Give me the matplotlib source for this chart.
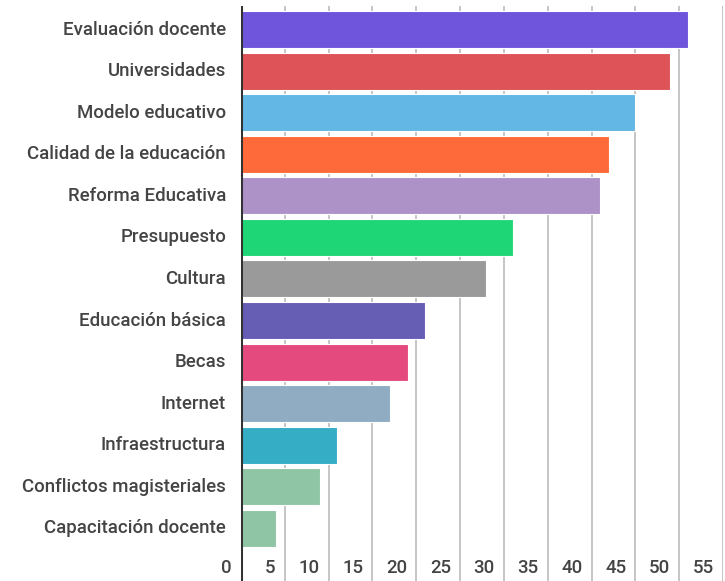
import matplotlib
matplotlib.use("Agg")
import matplotlib.pyplot as plt
import matplotlib.transforms as mtransforms

categories = ["Evaluación docente", "Universidades", "Modelo educativo",
              "Calidad de la educación", "Reforma Educativa", "Presupuesto",
              "Cultura", "Educación básica", "Becas", "Internet",
              "Infraestructura", "Conflictos magisteriales", "Capacitación docente"]
values = [51, 49, 45, 42, 41, 31, 28, 21, 19, 17, 11, 9, 4]
colors = ["#6E55DC", "#DD5357", "#62B7E5", "#FF6A3A", "#AD92C8", "#1FD677",
          "#9A9A9A", "#665DB5", "#E54A7F", "#8FACC2", "#35AEC5", "#8FC4A5",
          "#8FC4A5"]
xticks = [0, 5, 10, 15, 20, 25, 30, 35, 40, 45, 50, 55]

plt.rcParams['font.family'] = ['Roboto', 'DejaVu Sans']

fig = plt.figure(figsize=(7.25, 5.81), dpi=100)
ax = fig.add_axes([241/725, 0, (723-241)/725, 1 - 6/581])

ypos = list(range(len(categories)))
ax.barh(ypos, values, height=0.89, color=colors, edgecolor="white",
        linewidth=0.8, zorder=2)

ax.set_xlim(0, 55)
ax.set_ylim(13.27, -0.57)

for x in xticks[1:]:
    ax.axvline(x, color="#BBBBBB", linewidth=1.2, zorder=1)
ax.axvline(0, color="#333333", linewidth=2.2, zorder=3)

for s in ax.spines.values():
    s.set_visible(False)
ax.set_xticks([])
ax.set_yticks([])

txtcolor = "#444444"
for y, lab in zip(ypos, categories):
    ax.text(-1.7, y, lab, ha="right", va="center", fontsize=13.4,
            fontweight="medium", color=txtcolor, clip_on=False)

off = mtransforms.ScaledTranslation(-9/100, 0, fig.dpi_scale_trans)
for x in xticks:
    ax.text(x, 12.96, str(x), ha="right", va="center", fontsize=13.4,
            fontweight="medium", color=txtcolor, clip_on=False,
            transform=ax.transData + off)

fig.savefig("out.png", dpi=100)
